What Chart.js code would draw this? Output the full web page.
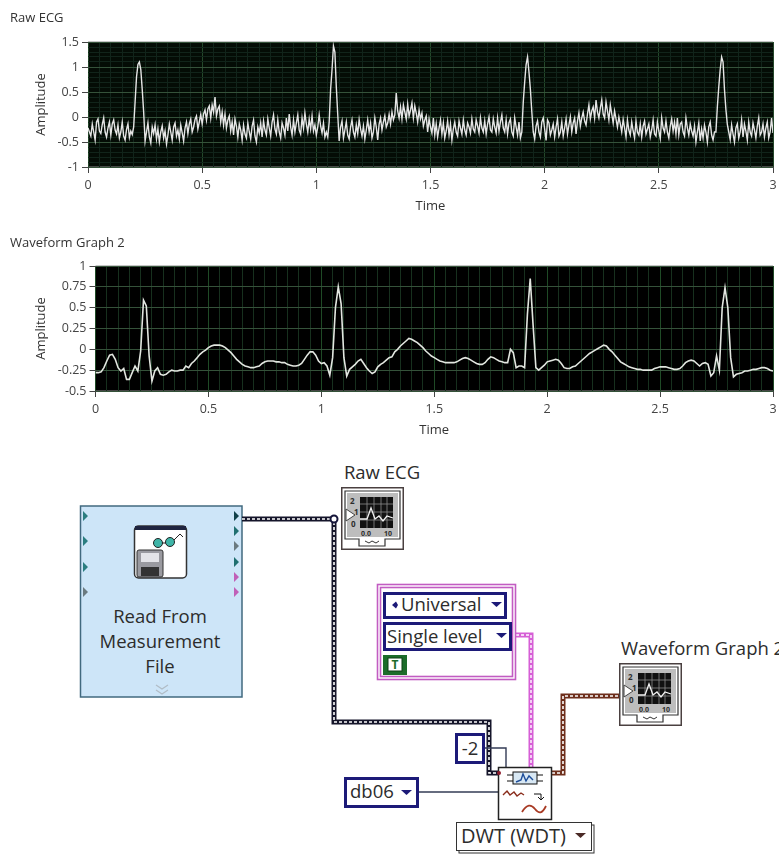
<!DOCTYPE html>
<html>
<head>
<meta charset="utf-8">
<title>Raw ECG and DWT waveform</title>
<script src="https://cdn.jsdelivr.net/npm/chart.js@4"></script>
<style>
  html, body { margin: 0; background: #fff; overflow: hidden; }
  #page { position: relative; width: 779px; height: 856px; }
  .graph { position: absolute; left: 0; width: 779px; height: 215px; }
  #diagram { position: absolute; left: 0; top: 0; }
  #diagram text { font-family: "Open Sans", sans-serif; fill: #2c2c2c; }
</style>
</head>
<body>
<div id="page">
  <svg id="diagram" width="779" height="856" viewBox="0 0 779 856">
    <defs>
      <symbol id="graphIcon" width="63" height="63" viewBox="0 0 63 63">
        <rect x="0.75" y="0.75" width="61.5" height="61.5" fill="#fff" stroke="#4a4040" stroke-width="1.5"/>
        <path d="M4 4H59V52H44V59H18V52H4Z" fill="#fff" stroke="#333" stroke-width="1.2"/>
        <rect x="6" y="6" width="51" height="44" fill="#bdbdbd"/>
        <rect x="19" y="10" width="33" height="31" fill="#111"/>
        <path d="M26 10V41M33 10V41M40 10V41M46 10V41M19 17H52M19 25H52M19 33H52" stroke="#8a8a8a" stroke-width="0.8"/>
        <path d="M19 32H26L30 21L34 32L38 29L42 34L46 29L52 31" fill="none" stroke="#f2f2f2" stroke-width="1.3"/>
        <path d="M5 22L14 28L5 34Z" fill="#fff" stroke="#444"/>
        <text x="9" y="17" font-size="8" font-weight="700">2</text>
        <text x="13" y="28" font-size="8" font-weight="700">1</text>
        <text x="10" y="40" font-size="8" font-weight="700">0</text>
        <text x="20" y="49" font-size="7" font-weight="700">0.0</text>
        <text x="43" y="49" font-size="7" font-weight="700">10</text>
        <path d="M24 54l4 2 3-2 4 2 3-2" fill="none" stroke="#333"/>
      </symbol>
    </defs>

    <!-- Read From Measurement File -->
    <rect x="80.5" y="506" width="161.5" height="191" fill="#cde5f8" stroke="#41697f" stroke-width="1.5"/>
    <path d="M83 511l5 5-5 5z M83 536l5 5-5 5z M83 562l5 5-5 5z" fill="#2b7d80"/>
    <path d="M83 587l5 5-5 5z" fill="#6b7a80"/>
    <path d="M234 511l5 5-5 5z" fill="#10404a"/>
    <path d="M234 526l5 5-5 5z M234 557l5 5-5 5z" fill="#1f6f70"/>
    <path d="M234 541l5 5-5 5z" fill="#6b7a80"/>
    <path d="M234 572l5 5-5 5z M234 587l5 5-5 5z" fill="#c060b8"/>
    <rect x="134.5" y="526" width="52" height="52" rx="4" fill="#fff" stroke="#333" stroke-width="1.5"/>
    <rect x="135" y="526" width="51" height="4" fill="#1f2440"/>
    <circle cx="158" cy="543" r="4.5" fill="#3fb5a8" stroke="#222"/>
    <circle cx="170" cy="542" r="4.5" fill="#3fb5a8" stroke="#222"/>
    <path d="M162 543h4M174 540l6-6 3 3" fill="none" stroke="#222"/>
    <rect x="137" y="550" width="26" height="27" rx="2" fill="#9a9aa0" stroke="#333"/>
    <rect x="141" y="553" width="18" height="9" fill="#e4e4e8"/>
    <rect x="141" y="567" width="18" height="9" fill="#333"/>
    <text x="160" y="623" font-size="18.5" text-anchor="middle">Read From</text>
    <text x="160" y="648" font-size="18.5" text-anchor="middle">Measurement</text>
    <text x="160" y="673" font-size="18.5" text-anchor="middle">File</text>
    <path d="M156 685l6 4 6-4M156 690l6 4 6-4" fill="none" stroke="#b0bcc6" stroke-width="1.2"/>

    <!-- data wires -->
    <path d="M242 519H334V722H489V773H498" fill="none" stroke="#15152a" stroke-width="5"/>
    <path d="M242 519H334V722H489V773H498" fill="none" stroke="#fff" stroke-width="1.6" stroke-dasharray="3 2"/>
    <circle cx="334" cy="519" r="3.5" fill="#fff" stroke="#15153a" stroke-width="2"/>

    <path d="M516 635H531V767" fill="none" stroke="#d65fd6" stroke-width="5"/>
    <path d="M516 635H531V767" fill="none" stroke="#fff" stroke-width="1.4" stroke-dasharray="3 2"/>

    <path d="M552 773H563V696H619" fill="none" stroke="#6e2f1c" stroke-width="5"/>
    <path d="M552 773H563V696H619" fill="none" stroke="#fff" stroke-width="1.6" stroke-dasharray="3 2"/>

    <path d="M484 748H506V767" fill="none" stroke="#333b55" stroke-width="1.4"/>
    <path d="M418 792H498" fill="none" stroke="#333b55" stroke-width="1.4"/>

    <!-- graph terminals -->
    <text x="382" y="479" font-size="18.5" text-anchor="middle">Raw ECG</text>
    <use href="#graphIcon" x="341" y="487"/>
    <text x="621" y="655" font-size="18.5">Waveform Graph 2</text>
    <use href="#graphIcon" x="619" y="663"/>

    <!-- cluster -->
    <rect x="377.5" y="584.5" width="138" height="95" fill="#fff" stroke="#c25cc2" stroke-width="1.6"/>
    <rect x="380.5" y="587.5" width="132" height="89" fill="#fff" stroke="#c25cc2" stroke-width="1.6"/>
    <rect x="384.5" y="593.5" width="121" height="24" fill="#fff" stroke="#1c1a78" stroke-width="3"/>
    <path d="M392 605l4-3.5v7z M398 605l-2-3.5v7z" fill="#1c1a78"/>
    <text x="401" y="611" font-size="18.5">Universal</text>
    <path d="M491 602h11l-5.5 5z" fill="#1c1a78"/>
    <rect x="384.5" y="623.5" width="126" height="26" fill="#fff" stroke="#1c1a78" stroke-width="3"/>
    <text x="387" y="643" font-size="18.5">Single level</text>
    <path d="M496 633h11l-5.5 5z" fill="#1c1a78"/>
    <rect x="383" y="655" width="24" height="20" fill="#1c6c2a"/>
    <rect x="388" y="658" width="14" height="13" fill="#fff" stroke="#0c3f14"/>
    <text x="395" y="669" font-size="12" font-weight="700" text-anchor="middle" style="fill:#1c6c2a">T</text>

    <!-- constants -->
    <rect x="456.5" y="734.5" width="27" height="28" fill="#fff" stroke="#1c1a78" stroke-width="3"/>
    <text x="470" y="755" font-size="18.5" text-anchor="middle">-2</text>
    <rect x="345.5" y="778.5" width="72" height="28" fill="#fff" stroke="#1c1a78" stroke-width="3"/>
    <text x="350" y="798" font-size="18.5">db06</text>
    <path d="M401 790h11l-5.5 5z" fill="#1c1a78"/>

    <!-- wavelet VI -->
    <rect x="498.5" y="767.5" width="53" height="52" fill="#fff" stroke="#222" stroke-width="1.5"/>
    <rect x="513" y="772" width="24" height="12" fill="#d8e8f4" stroke="#111"/>
    <path d="M507 775h6M507 781h6M537 775h6M537 781h6" stroke="#111"/>
    <path d="M516 782l5-2 2-6 3 7 3-5 4 4" fill="none" stroke="#1d4d9a" stroke-width="1.4"/>
    <path d="M503 795l4-4 3 4 4-3 3 4 4-3 3 2" fill="none" stroke="#8a2d1c" stroke-width="1.4"/>
    <path d="M534 794h7v5M538 797l3 3 3-3" fill="none" stroke="#111" stroke-width="1"/>
    <path d="M522 812c5-8 9-8 13-3s7 5 11-3" fill="none" stroke="#a83a24" stroke-width="1.8"/>
    <circle cx="499" cy="773" r="2" fill="#8e1c2c"/>

    <!-- polymorphic selector -->
    <rect x="459" y="825" width="135" height="28" fill="#fff" stroke="#333"/>
    <rect x="456.5" y="822.5" width="135" height="28" fill="#fff" stroke="#333"/>
    <text x="461" y="843" font-size="20">DWT (WDT)</text>
    <path d="M575 833h11l-5.5 5z" fill="#4a2a26"/>
  </svg>
  <div class="graph" style="top:0"><canvas id="rawChart"></canvas></div>
  <div class="graph" style="top:225px"><canvas id="waveChart"></canvas></div>
</div>
<script>
// sample spacing in seconds, both traces run 0 to 3 s
var rawStep = 0.00625
var filteredStep = 0.0125

var rawTitle = 'Raw ECG'
var filteredTitle = 'Waveform Graph 2'
var xAxisTitle = 'Time'
var yAxisTitle = 'Amplitude'

var timeTickLabels = ['0', '0.5', '1', '1.5', '2', '2.5', '3']
var rawAmpTickLabels = ['-1', '-0.5', '0', '0.5', '1', '1.5']
var filteredAmpTickLabels = ['-0.5', '-0.25', '0', '0.25', '0.5', '0.75', '1']

var rawValues = [
    -0.22, -0.30, -0.38, -0.14, -0.30, -0.46, -0.10, -0.04, -0.28, -0.33,
    -0.15, -0.02, -0.30, -0.40, -0.22, -0.10, -0.36, -0.14, -0.06, -0.26,
    -0.34, -0.16, -0.42, -0.30, -0.10, -0.38, -0.46, -0.25, -0.14, -0.41,
    -0.28, -0.35, -0.20, 0.30, 0.80, 1.05, 1.10, 0.95, 0.55, 0.10,
    -0.48, -0.30, -0.12, -0.40, -0.52, -0.20, -0.33, -0.16, -0.44, -0.24,
    -0.50, -0.30, -0.18, -0.42, -0.28, -0.54, -0.36, -0.14, -0.30, -0.46,
    -0.20, -0.12, -0.38, -0.26, -0.44, -0.16, -0.32, -0.48, -0.22, -0.10,
    -0.33, -0.14, -0.04, -0.30, -0.20, -0.05, 0.02, -0.24, -0.10, 0.05,
    -0.14, 0.06, 0.14, -0.06, 0.16, 0.22, -0.02, 0.24, 0.10, 0.40,
    0.02, 0.16, 0.22, -0.10, 0.10, -0.16, 0.06, -0.22, -0.06, 0.02,
    -0.28, -0.10, -0.36, -0.04, -0.18, -0.40, -0.14, -0.26, -0.46, -0.16,
    -0.34, -0.42, -0.12, -0.30, -0.44, -0.18, -0.06, -0.38, -0.50, -0.20,
    -0.32, -0.12, -0.40, -0.08, -0.26, -0.36, -0.04, -0.22, -0.38, -0.10,
    0.04, -0.24, -0.34, -0.06, -0.30, -0.42, -0.12, -0.22, -0.36, -0.02,
    -0.28, 0.06, -0.20, -0.36, -0.06, -0.30, -0.12, 0.04, -0.26, -0.34,
    -0.02, -0.22, 0.08, -0.14, -0.30, -0.04, -0.24, 0.02, -0.28, -0.16,
    -0.36, -0.20, 0.04, -0.18, -0.32, -0.12, -0.40, -0.30, -0.40, -0.10,
    0.55, 0.95, 1.42, 1.30, 0.60, 0.05, -0.48, -0.20, -0.08, -0.42,
    -0.26, -0.10, -0.36, -0.44, -0.20, -0.06, -0.30, -0.40, -0.16, -0.33,
    -0.05, -0.24, -0.38, -0.18, -0.44, -0.26, -0.06, -0.30, -0.12, -0.42,
    -0.30, -0.02, -0.20, -0.46, -0.14, -0.02, -0.26, -0.10, 0.02, -0.20,
    -0.12, 0.05, -0.14, 0.10, -0.06, 0.04, 0.48, 0.12, -0.02, 0.20,
    -0.04, 0.24, 0.10, -0.04, 0.26, 0.02, 0.14, 0.28, -0.02, 0.22,
    0.08, -0.10, 0.14, -0.04, 0.08, -0.18, -0.06, 0.02, -0.30, -0.04,
    -0.20, -0.32, -0.02, -0.36, -0.14, -0.40, -0.22, -0.06, -0.34, -0.12,
    -0.42, -0.28, -0.08, -0.36, -0.14, -0.46, -0.24, -0.10, -0.30, -0.38,
    -0.08, -0.22, -0.34, -0.06, -0.26, -0.36, -0.12, -0.20, -0.32, -0.04,
    -0.24, -0.30, -0.06, -0.18, -0.32, -0.02, -0.22, -0.30, -0.08, -0.34,
    -0.14, 0.00, -0.26, -0.30, -0.04, -0.20, -0.32, -0.02, -0.28, -0.10,
    0.04, -0.22, -0.30, -0.06, -0.34, -0.12, -0.04, -0.30, -0.38, -0.02,
    -0.20, -0.36, -0.10, -0.42, -0.30, 0.30, 0.70, 1.05, 1.20, 0.90,
    0.55, 0.10, -0.30, -0.44, -0.18, -0.08, -0.30, -0.40, -0.10, -0.02,
    -0.24, -0.47, -0.06, -0.12, -0.36, -0.26, -0.14, -0.40, -0.20, -0.04,
    -0.38, -0.30, -0.10, -0.38, -0.22, -0.04, -0.34, -0.16, 0.00, -0.30,
    -0.12, -0.02, -0.34, -0.08, 0.08, -0.18, -0.02, 0.10, -0.08, -0.16,
    0.06, 0.24, -0.04, 0.12, 0.20, -0.02, 0.34, 0.10, -0.02, 0.18,
    0.34, 0.06, -0.02, 0.30, 0.12, -0.06, 0.24, 0.06, -0.12, 0.12,
    -0.04, -0.20, 0.00, -0.14, -0.30, -0.05, -0.22, -0.40, -0.06, -0.26,
    -0.36, -0.10, -0.28, -0.42, -0.08, -0.30, -0.36, -0.14, -0.40, -0.18,
    -0.08, -0.34, -0.24, -0.14, -0.40, -0.26, -0.06, -0.34, -0.38, -0.10,
    -0.28, -0.43, -0.02, -0.22, -0.30, -0.08, -0.30, -0.42, -0.18, -0.04,
    -0.28, -0.10, -0.34, -0.02, -0.36, -0.14, -0.10, -0.30, -0.38, -0.02,
    -0.22, -0.36, -0.14, -0.28, -0.38, -0.18, -0.50, -0.30, -0.12, -0.48,
    -0.24, -0.42, -0.16, -0.30, -0.50, -0.20, -0.10, -0.36, -0.46, -0.30,
    -0.30, 0.20, 0.60, 0.95, 1.20, 1.10, 0.55, 0.15, -0.15, -0.30,
    -0.45, -0.16, -0.34, -0.50, -0.22, -0.14, -0.42, -0.30, -0.06, -0.40,
    -0.14, -0.28, -0.46, -0.10, -0.30, -0.38, -0.12, -0.26, -0.42, -0.18,
    -0.02, -0.36, -0.30, -0.14, -0.40, -0.22, -0.10, -0.42, -0.30, -0.02,
    -0.32
]

var filteredValues = [
    -0.28, -0.28, -0.27, -0.22, -0.14, -0.07, -0.06, -0.12, -0.22, -0.26,
    -0.23, -0.36, -0.36, -0.28, -0.20, -0.26, -0.02, 0.59, 0.52, -0.08,
    -0.38, -0.26, -0.22, -0.30, -0.31, -0.30, -0.27, -0.25, -0.26, -0.26,
    -0.25, -0.25, -0.20, -0.22, -0.17, -0.14, -0.10, -0.06, -0.03, -0.01,
    0.02, 0.04, 0.05, 0.05, 0.05, 0.04, 0.02, -0.01, -0.04, -0.08,
    -0.12, -0.15, -0.18, -0.20, -0.21, -0.22, -0.22, -0.21, -0.20, -0.17,
    -0.15, -0.14, -0.14, -0.14, -0.15, -0.15, -0.16, -0.16, -0.18, -0.19,
    -0.20, -0.20, -0.19, -0.17, -0.12, -0.07, -0.03, -0.03, -0.07, -0.14,
    -0.17, -0.16, -0.20, -0.31, -0.10, 0.50, 0.75, 0.55, -0.10, -0.32,
    -0.24, -0.21, -0.18, -0.14, -0.12, -0.17, -0.22, -0.26, -0.29, -0.27,
    -0.21, -0.18, -0.16, -0.13, -0.10, -0.09, -0.03, 0.00, 0.04, 0.07,
    0.10, 0.13, 0.12, 0.10, 0.08, 0.05, 0.02, -0.02, -0.05, -0.08,
    -0.10, -0.12, -0.14, -0.15, -0.16, -0.16, -0.16, -0.16, -0.15, -0.13,
    -0.11, -0.10, -0.11, -0.13, -0.15, -0.17, -0.18, -0.18, -0.16, -0.12,
    -0.09, -0.10, -0.12, -0.14, -0.15, -0.16, -0.16, 0.00, -0.04, -0.22,
    -0.20, -0.20, -0.22, 0.42, 0.85, 0.30, -0.22, -0.25, -0.22, -0.19,
    -0.15, -0.14, -0.13, -0.12, -0.13, -0.17, -0.22, -0.23, -0.23, -0.21,
    -0.20, -0.17, -0.14, -0.11, -0.08, -0.05, -0.03, -0.01, 0.01, 0.03,
    0.05, 0.04, 0.00, -0.03, -0.07, -0.11, -0.15, -0.17, -0.19, -0.21,
    -0.22, -0.23, -0.24, -0.24, -0.25, -0.25, -0.25, -0.25, -0.23, -0.22,
    -0.21, -0.21, -0.21, -0.22, -0.23, -0.24, -0.24, -0.23, -0.20, -0.16,
    -0.14, -0.13, -0.14, -0.17, -0.20, -0.17, -0.16, -0.18, -0.32, -0.28,
    -0.08, -0.25, 0.50, 0.74, 0.50, -0.10, -0.33, -0.30, -0.29, -0.28,
    -0.26, -0.26, -0.25, -0.24, -0.24, -0.23, -0.22, -0.22, -0.23, -0.25,
    -0.26
]

function toPoints(values, step) {
    return values.map(function (v, i) {
        return { x: i * step, y: v }
    })
}

function labelFor(labels, value) {
    var found = labels.filter(function (l) { return Math.abs(parseFloat(l) - value) < 1e-6 })
    return found.length ? found[0] : ''
}

// black plot area under the grid
var plotBackground = {
    id: 'plotBackground',
    beforeDraw: function (chart, args, opts) {
        var a = chart.chartArea
        var c = chart.ctx
        c.save()
        c.fillStyle = opts.color
        c.fillRect(a.left, a.top, a.width, a.height)
        c.strokeStyle = '#8a8a8a'
        c.lineWidth = 1
        c.beginPath()
        c.moveTo(a.left, a.top)
        c.lineTo(a.right, a.top)
        c.moveTo(a.left, a.bottom)
        c.lineTo(a.right, a.bottom)
        c.stroke()
        c.restore()
    }
}

function drawGraph(id, opts) {
    var fontName = '"Open Sans", sans-serif'
    var tickFont = { family: fontName, size: 12.5 }
    var lineColor = function (labels, minor, major) {
        return function (ctx) {
            return labelFor(labels, ctx.tick.value) !== '' ? major : minor
        }
    }
    var markColor = function (labels) {
        return function (ctx) {
            return labelFor(labels, ctx.tick.value) !== '' ? '#444' : 'rgba(0,0,0,0)'
        }
    }
    return new Chart(document.getElementById(id), {
        type: 'line',
        plugins: [plotBackground],
        data: {
            datasets: [{
                data: toPoints(opts.values, opts.step),
                borderColor: opts.traceColor,
                borderWidth: opts.traceWidth,
                pointRadius: 0,
                tension: 0
            }]
        },
        options: {
            responsive: false,
            animation: false,
            layout: { padding: { left: opts.titleLeft, right: 6, top: 0, bottom: 0 } },
            plugins: {
                legend: { display: false },
                tooltip: { enabled: false },
                plotBackground: { color: opts.plotColor },
                title: {
                    display: true,
                    text: opts.title,
                    align: 'start',
                    color: '#333',
                    font: { family: fontName, size: 13, weight: 'normal' },
                    padding: { top: 10, bottom: opts.titleGap }
                }
            },
            scales: {
                x: {
                    type: 'linear',
                    min: 0,
                    max: 3,
                    afterFit: function (scale) {
                        scale.height = 215 - opts.plotBottom
                        // the last label may hang past the plot edge
                        scale.paddingRight = 0
                    },
                    title: {
                        display: true,
                        text: xAxisTitle,
                        color: '#333',
                        font: { family: fontName, size: 13, weight: 500 },
                        padding: { top: 0, bottom: opts.timeGap }
                    },
                    border: { display: false },
                    grid: {
                        color: lineColor(timeTickLabels, opts.minorGrid, opts.majorGridX),
                        tickColor: markColor(timeTickLabels),
                        tickLength: 6
                    },
                    ticks: {
                        stepSize: 0.05,
                        autoSkip: false,
                        maxRotation: 0,
                        maxTicksLimit: 100,
                        color: '#444',
                        font: tickFont,
                        padding: 5,
                        callback: function (v) { return labelFor(timeTickLabels, v) }
                    }
                },
                y: {
                    min: opts.yMin,
                    max: opts.yMax,
                    afterFit: function (scale) { scale.width = opts.plotLeft - opts.titleLeft },
                    title: {
                        display: true,
                        text: yAxisTitle,
                        color: '#333',
                        font: { family: fontName, size: 13, weight: 'normal' },
                        padding: { top: 23, bottom: 0 }
                    },
                    border: { display: false },
                    grid: {
                        color: lineColor(opts.yLabels, opts.minorGrid, opts.majorGridY),
                        tickColor: markColor(opts.yLabels),
                        tickLength: 6
                    },
                    ticks: {
                        stepSize: opts.yStep,
                        autoSkip: false,
                        maxTicksLimit: 100,
                        color: '#444',
                        font: tickFont,
                        padding: 3,
                        callback: function (v) { return labelFor(opts.yLabels, v) }
                    }
                }
            }
        }
    })
}

function sizeCanvas(id) {
    var c = document.getElementById(id)
    c.width = 779
    c.height = 215
}

sizeCanvas('rawChart')
sizeCanvas('waveChart')

drawGraph('rawChart', {
    title: rawTitle,
    values: rawValues,
    step: rawStep,
    yLabels: rawAmpTickLabels,
    yMin: -1,
    yMax: 1.5,
    yStep: 0.1,
    plotLeft: 88,
    plotBottom: 167,
    titleLeft: 10,
    titleGap: 16.4,
    timeGap: 1,
    plotColor: '#040c05',
    majorGridX: '#24482a',
    majorGridY: '#35523a',
    minorGrid: '#11241a',
    traceColor: '#e6e6e6',
    traceWidth: 1.4
})

drawGraph('waveChart', {
    title: filteredTitle,
    values: filteredValues,
    step: filteredStep,
    yLabels: filteredAmpTickLabels,
    yMin: -0.5,
    yMax: 1,
    yStep: 0.25,
    plotLeft: 95.5,
    plotBottom: 166,
    titleLeft: 10,
    titleGap: 15.4,
    timeGap: 2,
    plotColor: '#000000',
    majorGridX: '#1f4a26',
    majorGridY: '#35523a',
    minorGrid: '#17301e',
    traceColor: '#e2e6e0',
    traceWidth: 1.6
})
</script>
</body>
</html>
